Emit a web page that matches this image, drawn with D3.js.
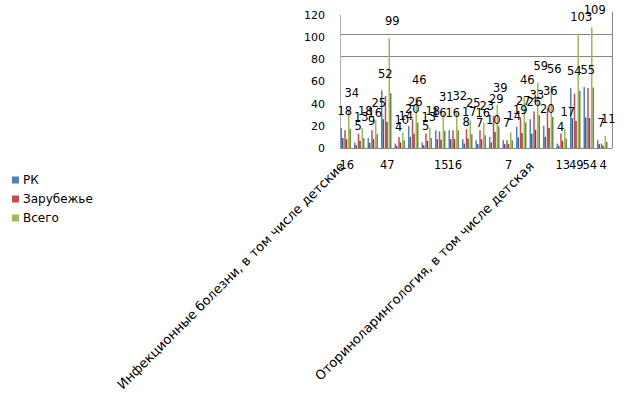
<!DOCTYPE html>
<html>
<head>
<meta charset="utf-8">
<script src="https://cdn.jsdelivr.net/npm/d3@7/dist/d3.min.js"></script>
<style>
	body { margin: 0; background: #fff; }
	text { font-family: "DejaVu Sans", sans-serif; fill: #000; }
</style>
</head>
<body>
<div id="chart"></div>
<script>
// Categories (only every 14th label is shown on the axis)
var categories = [
	'Инфекционные болезни, в том числе детские', '', '', '', '', '', '', '', '', '', '', '', '', '',
	'Оториноларингология, в том числе детская', '', '', '', '', ''
];
var seriesNames = ['РК', 'Зарубежье', 'Всего'];
var rk     = [18, 5, 9, 52, 4, 20, 5, 16, 16, 8, 7, 10, 7, 19, 26, 20, 4, 54, 55, 7];
var abroad = [16, 13, 16, 47, 10, 26, 13, 15, 16, 17, 16, 29, 7, 27, 33, 36, 13, 49, 54, 4];
var total  = [34, 18, 25, 99, 14, 46, 18, 31, 32, 25, 23, 39, 14, 46, 59, 56, 17, 103, 109, 11];
var yTicks = [0, 20, 40, 60, 80, 100, 120];
var gridTicks = [80, 100];
// categories whose "Зарубежье" label sits under the axis
var abroadLabelBelow = [0, 3, 7, 8, 12, 16, 17, 18, 19];

/***********************************************************
  Start: Setup
***********************************************************/
var width = 625, height = 399;
var colors = ['#4F81BD', '#C0504D', '#9BBB59'];
var darkColors = ['#385D8A', '#8C3836', '#71893F'];
var axisColor = '#868686';

var svg = d3.select('#chart').append('svg')
	.attr('width', width)
	.attr('height', height);

var x = d3.scaleBand().domain(d3.range(categories.length)).range([339, 609]).paddingInner(0.22).paddingOuter(0.11);
var xSub = d3.scaleBand().domain(d3.range(3)).range([0, x.bandwidth()]).paddingInner(0.2);
var y = d3.scaleLinear().domain([0, 120]).range([148, 15]);

var data = categories.map(function(c, i) {
	return { cat: i, values: [rk[i], abroad[i], total[i]] };
});
/***********************************************************
  End: Setup
***********************************************************/

// Frame: gridlines, left axis, bottom axis, right edge
svg.selectAll('.grid').data(gridTicks).enter().append('line')
	.attr('x1', 341).attr('x2', 612)
	.attr('y1', function(d) { return Math.round(y(d)) - 2.5; })
	.attr('y2', function(d) { return Math.round(y(d)) - 2.5; })
	.attr('stroke', axisColor).attr('stroke-width', 1);
svg.append('line').attr('x1', 340.5).attr('x2', 340.5).attr('y1', y(120)).attr('y2', y(0))
	.attr('stroke', '#b0b0b0').attr('stroke-width', 1);
svg.append('line').attr('x1', 612.5).attr('x2', 612.5).attr('y1', 12).attr('y2', y(0))
	.attr('stroke', axisColor).attr('stroke-width', 1);

// Y tick labels
svg.selectAll('.ytick').data(yTicks).enter().append('text')
	.attr('x', 325)
	.attr('y', function(d) { return y(d); })
	.attr('dy', '0.36em')
	.style('text-anchor', 'end')
	.style('font-size', '11px')
	.text(function(d) { return d; });

/***********************************************************
  Start: Bars (light front, darker shaded side)
***********************************************************/
var groups = svg.selectAll('.cat').data(data).enter().append('g')
	.attr('transform', function(d) { return 'translate(' + x(d.cat) + ',0)'; });

var half = xSub.bandwidth() / 2;
groups.selectAll('.front').data(function(d) { return d.values; }).enter().append('rect')
	.attr('x', function(v, k) { return xSub(k); })
	.attr('y', function(v) { return y(v); })
	.attr('width', half)
	.attr('height', function(v) { return y(0) - y(v); })
	.attr('fill', function(v, k) { return colors[k]; });
groups.selectAll('.side').data(function(d) { return d.values; }).enter().append('rect')
	.attr('x', function(v, k) { return xSub(k) + half; })
	.attr('y', function(v) { return y(v * 0.5); })
	.attr('width', half)
	.attr('height', function(v) { return y(0) - y(v * 0.5); })
	.attr('fill', function(v, k) { return darkColors[k]; });
/***********************************************************
  End: Bars
***********************************************************/

svg.append('line').attr('x1', 340).attr('x2', 612).attr('y1', y(0) + 0.5).attr('y2', y(0) + 0.5)
	.attr('stroke', axisColor).attr('stroke-width', 1);

/***********************************************************
  Start: Data labels
***********************************************************/
var labelOffsets = [-1, 2, 6];
data.forEach(function(d) {
	var cx = x(d.cat) + x.bandwidth() / 2;
	d.values.forEach(function(v, k) {
		var below = (k == 1 && abroadLabelBelow.indexOf(d.cat) >= 0);
		svg.append('text')
			.attr('x', cx + (below ? 1 : labelOffsets[k]))
			.attr('y', below ? y(0) + 17 : y(v) - 17)
			.attr('dy', '0.36em')
			.style('text-anchor', 'middle')
			.style('font-size', '11.5px')
			.text(v);
	});
});
/***********************************************************
  End: Data labels
***********************************************************/

// Category labels, rotated
svg.selectAll('.xlab').data(data.filter(function(d) { return d.cat % 14 == 0; })).enter().append('text')
	.style('text-anchor', 'end')
	.style('font-size', '13px')
	.attr('transform', function(d) {
		return 'translate(' + (x(d.cat) + x.bandwidth() / 2) + ',' + 167 + ') rotate(-45)';
	})
	.text(function(d) { return categories[d.cat]; });

// Legend
var legend = svg.selectAll('.legend').data(seriesNames).enter().append('g')
	.attr('transform', function(d, i) { return 'translate(12,' + (180 + i * 19) + ')'; });
legend.append('rect')
	.attr('x', 0).attr('y', -3.5).attr('width', 7).attr('height', 7)
	.attr('fill', function(d, i) { return colors[i]; });
legend.append('text')
	.attr('x', 11).attr('y', 0).attr('dy', '0.36em')
	.style('font-size', '12px')
	.text(function(d) { return d; });
</script>
</body>
</html>
